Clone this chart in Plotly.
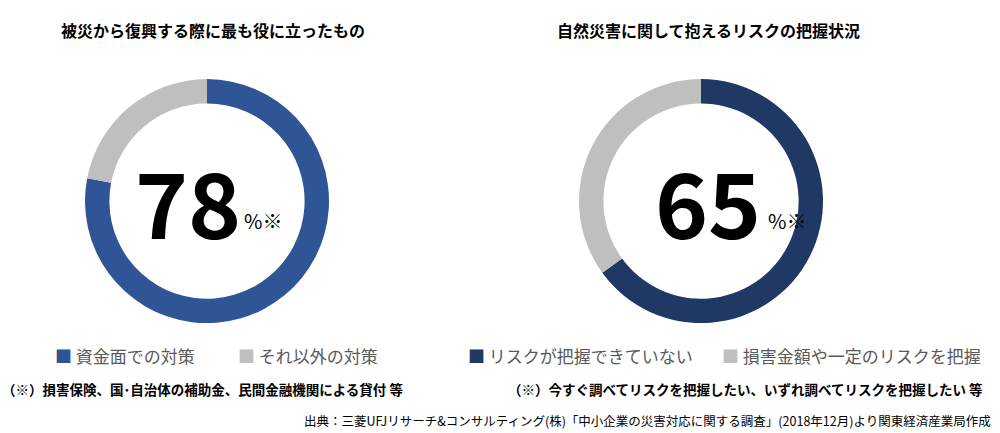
import plotly.graph_objects as go

left_labels = ["資金面での対策", "それ以外の対策"]
left_values = [78, 22]
right_labels = ["リスクが把握できていない", "損害金額や一定のリスクを把握"]
right_values = [65, 35]
left_colors = ["#2F5597", "#BFBFBF"]
right_colors = ["#1F3864", "#BFBFBF"]

font = "Noto Sans CJK JP"
W, H = 1000, 433

def px(x, y):
    return x / W, 1 - y / H

fig = go.Figure()
fig.add_trace(go.Pie(values=left_values, labels=left_labels, hole=0.8, sort=False,
                     direction="clockwise", rotation=0, textinfo="none",
                     marker=dict(colors=left_colors), showlegend=False,
                     domain=dict(x=[0.077, 0.321], y=[0.272, 0.836])))
fig.add_trace(go.Pie(values=right_values, labels=right_labels, hole=0.8, sort=False,
                     direction="clockwise", rotation=0, textinfo="none",
                     marker=dict(colors=right_colors), showlegend=False,
                     domain=dict(x=[0.571, 0.815], y=[0.272, 0.836])))

ann = []
def text(x, y, s, size, color="#000", bold=False, anchor="center"):
    xx, yy = px(x, y)
    ann.append(dict(x=xx, y=yy, xref="paper", yref="paper", showarrow=False,
                    xanchor=anchor, yanchor="middle",
                    text=f"<b>{s}</b>" if bold else s,
                    font=dict(family=font, size=size, color=color)))

text(205, 22, "被災から復興する際に最も役に立ったもの", 16, bold=True)
text(700, 22, "自然災害に関して抱えるリスクの把握状況", 16, bold=True)
text(180, 192, str(left_values[0]), 90, bold=True)
text(234, 212, "%※", 20, anchor="left")
text(700, 192, str(right_values[0]), 90, bold=True)
text(758, 212, "%※", 20, anchor="left")

legend = [(45, left_labels[0], left_colors[0]), (228, left_labels[1], left_colors[1]),
          (458, right_labels[0], right_colors[0]), (712, right_labels[1], right_colors[1])]
for x, lab, c in legend:
    text(x, 347, f"<span style='color:{c}'>■</span> <span style='color:#595959'>{lab}</span>",
         17, anchor="left")

text(-8, 381, "（※）損害保険、国･自治体の補助金、民間金融機関による貸付 等", 13.5, bold=True, anchor="left")
text(498, 381, "（※）今すぐ調べてリスクを把握したい、いずれ調べてリスクを把握したい 等", 13.5, bold=True, anchor="left")
text(985, 412, "出典：三菱UFJリサーチ&コンサルティング(株)「中小企業の災害対応に関する調査」(2018年12月)より関東経済産業局作成", 12.5, anchor="right")

fig.update_layout(width=W, height=H, margin=dict(l=0, r=0, t=0, b=0),
                  paper_bgcolor="white", plot_bgcolor="white", annotations=ann)
fig.write_html("out.html")
